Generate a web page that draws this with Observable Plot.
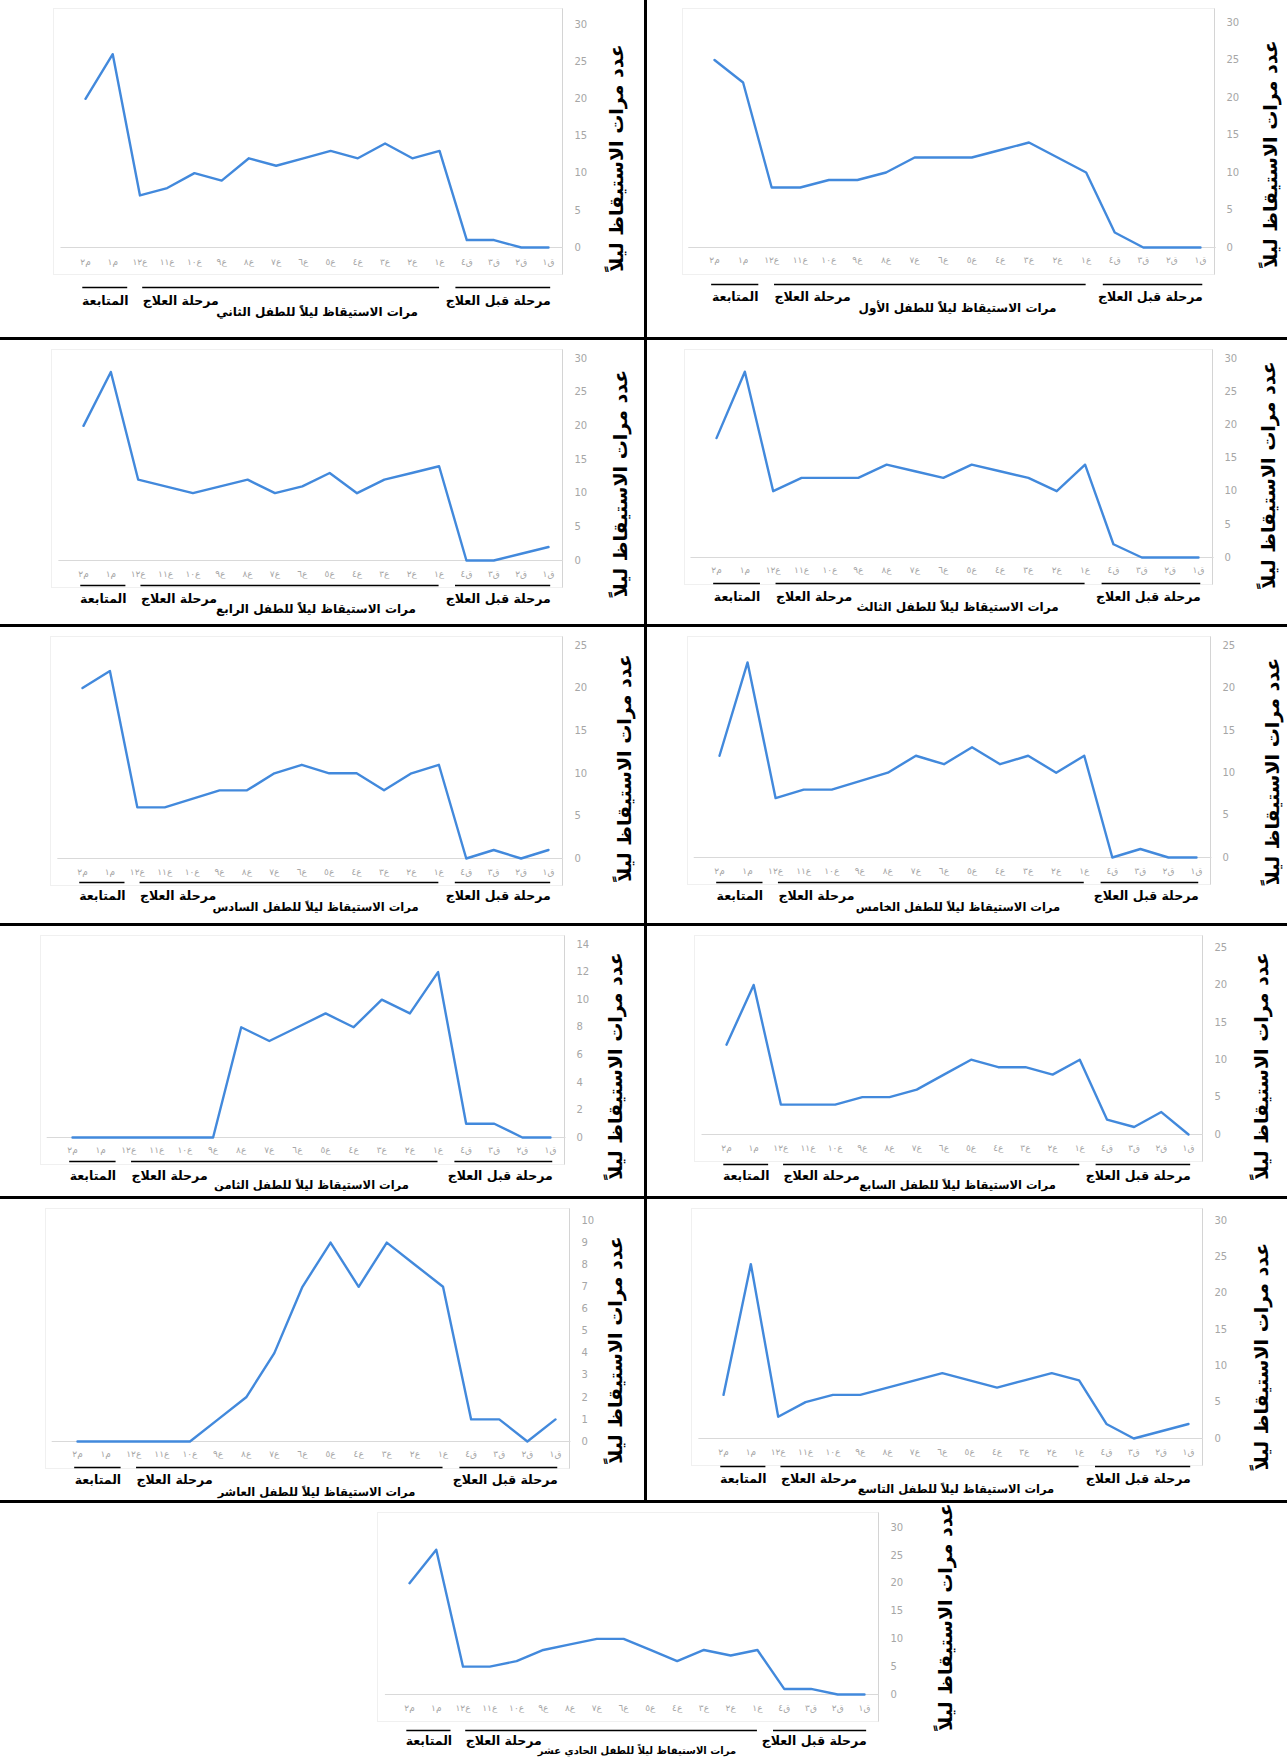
<!DOCTYPE html>
<html><head><meta charset="utf-8">
<script src="https://cdn.jsdelivr.net/npm/d3@7"></script>
<script src="https://cdn.jsdelivr.net/npm/@observablehq/plot@0.6"></script>
<style>
body{margin:0;background:#fff;}
#page{position:relative;width:1287px;height:1758px;overflow:hidden;background:#fff;font-family:"DejaVu Sans",sans-serif;}
.box{position:absolute;border:1px solid #f0f0f0;border-right:1px solid #d4d4d4;box-sizing:border-box;}
.bar{position:absolute;background:#000;}
svg{position:absolute;overflow:visible;}
</style></head><body><div id="page"></div>
<script>
// ---- data ----
const sessions = ["ق١","ق٢","ق٣","ق٤","ع١","ع٢","ع٣","ع٤","ع٥","ع٦","ع٧","ع٨","ع٩","ع١٠","ع١١","ع١٢","م١","م٢"];
const child1  = [0,0,0,2,10,12,14,13,12,12,12,10,9,9,8,8,22,25];
const child2  = [0,0,1,1,13,12,14,12,13,12,11,12,9,10,8,7,26,20];
const child3  = [0,0,0,2,14,10,12,13,14,12,13,14,12,12,12,10,28,18];
const child4  = [2,1,0,0,14,13,12,10,13,11,10,12,11,10,11,12,28,20];
const child5  = [0,0,1,0,12,10,12,11,13,11,12,10,9,8,8,7,23,12];
const child6  = [1,0,1,0,11,10,8,10,10,11,10,8,8,7,6,6,22,20];
const child7  = [0,3,1,2,10,8,9,9,10,8,6,5,5,4,4,4,20,12];
const child8  = [0,0,1,1,12,9,10,8,9,8,7,8,0,0,0,0,0,0];
const child9  = [2,1,0,2,8,9,8,7,8,9,8,7,6,6,5,3,24,6];
const child10 = [1,0,1,1,7,8,9,7,9,7,4,2,1,0,0,0,0,0];
const child11 = [0,0,1,1,8,7,8,6,8,10,10,9,8,6,5,5,26,20];
const series = [child1,child2,child3,child4,child5,child6,child7,child8,child9,child10,child11];
const childNames = ["الأول","الثاني","الثالث","الرابع","الخامس","السادس","السابع","الثامن","التاسع","العاشر","الحادي عشر"];
const titlePrefix = "مرات الاستيقاظ ليلاً للطفل ";
const yTitle = "عدد مرات الاستيقاظ ليلاً";
const yMax  = [30,30,30,30,25,25,25,14,30,10,30];
const yStep = [5,5,5,5,5,5,5,2,5,1,5];
const phaseNames = ["مرحلة قبل العلاج","مرحلة العلاج","المتابعة"];
const phaseFrom  = ["ق١","ع١","م١"];
const phaseTo    = ["ق٤","ع١٢","م٢"];

// ---- layout (pixels) ----
const layout = [
 {L:648,T:0,   W:639,H:337, xl:714,xr:1200,yt:22,  y0:247, tick:13,line:37,lab:49,ttl:61,ydx:70,ydy:19,tfs:12},
 {L:0,  T:0,   W:643,H:337, xl:85, xr:548, yt:24,  y0:247, tick:15,line:40,lab:53,ttl:65,ydx:68,ydy:22,tfs:12},
 {L:648,T:341, W:639,H:283, xl:716,xr:1198,yt:358, y0:557, tick:13,line:26,lab:39,ttl:50,ydx:70,ydy:17,tfs:12},
 {L:0,  T:341, W:643,H:283, xl:83, xr:548, yt:358, y0:560, tick:14,line:25,lab:38,ttl:49,ydx:72,ydy:24,tfs:12},
 {L:648,T:628, W:639,H:294, xl:719,xr:1196,yt:645, y0:857, tick:14,line:25,lab:38,ttl:50,ydx:76,ydy:20,tfs:11.5},
 {L:0,  T:628, W:643,H:294, xl:82, xr:548, yt:645, y0:858, tick:14,line:24,lab:37,ttl:49,ydx:76,ydy:16,tfs:11.5},
 {L:648,T:927, W:639,H:269, xl:726,xr:1188,yt:947, y0:1134,tick:14,line:30,lab:41,ttl:51,ydx:73,ydy:25,tfs:11.5},
 {L:0,  T:927, W:643,H:269, xl:72, xr:550, yt:944, y0:1137,tick:13,line:24,lab:38,ttl:48,ydx:65,ydy:25,tfs:11.5},
 {L:648,T:1200,W:639,H:300, xl:723,xr:1188,yt:1220,y0:1438,tick:14,line:28,lab:40,ttl:51,ydx:73,ydy:27,tfs:11.5},
 {L:0,  T:1200,W:643,H:300, xl:77, xr:555, yt:1220,y0:1441,tick:13,line:26,lab:38,ttl:51,ydx:60,ydy:19,tfs:11.5},
 {L:300,T:1504,W:700,H:254, xl:409,xr:864, yt:1527,y0:1694,tick:14,line:36,lab:46,ttl:56,ydx:81,ydy:6,tfs:10}
];
const phasePad = [[-0.08,0.4],[0.0,-0.1],[-0.55,0.1]];
const lineColor = "#4289dc";
const font = "DejaVu Sans";

const page = document.getElementById("page");
function addDiv(cls, l, t, w, h) {
  const d = document.createElement("div");
  d.className = cls;
  Object.assign(d.style, {left: l+"px", top: t+"px", width: w+"px", height: h+"px"});
  page.appendChild(d);
}
// dividers
addDiv("bar", 644, 0, 3, 1502);
[337, 624, 923, 1196, 1500].forEach(y => addDiv("bar", 0, y, 1287, 3));

series.forEach((values, k) => {
  const g = layout[k];
  addDiv("box", g.xl - 32, g.T + 8, (g.xr + 15) - (g.xl - 32), (g.y0 + 28) - (g.T + 8));
  const data = values.map((v, i) => ({i, v}));
  const ph = phaseNames.map((name, j) => {
    const a = sessions.indexOf(phaseFrom[j]), b = sessions.indexOf(phaseTo[j]);
    return {name, x1: a + phasePad[j][0], x2: b + phasePad[j][1], xm: (a + phasePad[j][0] + b + phasePad[j][1]) / 2};
  });
  const yTicks = d3.range(0, yMax[k] + 1e-9, yStep[k]);
  const txt = {fontSize: 12.5, fontWeight: "bold", fill: "#000", fontFamily: font};
  const svg = Plot.plot({
    width: g.W, height: g.H,
    marginLeft: g.xl - g.L, marginRight: g.L + g.W - g.xr,
    marginTop: g.yt - g.T, marginBottom: g.T + g.H - g.y0,
    x: {type: "linear", domain: [0, sessions.length - 1], reverse: true},
    y: {domain: [0, yMax[k]]},
    style: {fontFamily: font, background: "transparent", overflow: "visible"},
    marks: [
      Plot.ruleY([{y: 0, x1: 17.9, x2: -0.55}], {y: "y", x1: "x1", x2: "x2", stroke: "#d9d9d9", strokeWidth: 1}),
      Plot.axisY({anchor: "right", ticks: yTicks, tickSize: 0, tickPadding: 26, fontSize: 10, color: "#a6a6a6", label: null}),
      Plot.axisX({anchor: "bottom", ticks: d3.range(sessions.length), tickFormat: i => sessions[i], tickSize: 0, tickPadding: g.tick - 4, fontSize: 9, color: "#a6a6a6", label: null}),
      Plot.line(data, {x: "i", y: "v", stroke: lineColor, strokeWidth: 2.4}),
      Plot.ruleY(ph, {y: () => 0, x1: "x1", x2: "x2", dy: g.line, stroke: "#000", strokeWidth: 1.6}),
      Plot.text([ph[0]], {x: "x1", y: () => 0, text: "name", textAnchor: "end", dy: g.lab, ...txt}),
      Plot.text([ph[1]], {x: "x2", y: () => 0, text: "name", textAnchor: "start", dy: g.lab, ...txt}),
      Plot.text([ph[2]], {x: "xm", y: () => 0, text: "name", textAnchor: "middle", dy: g.lab, ...txt}),
      Plot.text([titlePrefix + childNames[k]], {frameAnchor: "bottom", textAnchor: "middle", lineAnchor: "middle", dy: g.ttl, ...txt, fontSize: g.tfs}),
      Plot.text([yTitle], {frameAnchor: "right", textAnchor: "middle", lineAnchor: "middle", rotate: -90, dx: g.ydx, dy: g.ydy, fontSize: 19, fontWeight: "bold", fill: "#000", fontFamily: font})
    ]
  });
  svg.style.left = g.L + "px";
  svg.style.top = g.T + "px";
  page.appendChild(svg);
});
</script>
</body></html>
